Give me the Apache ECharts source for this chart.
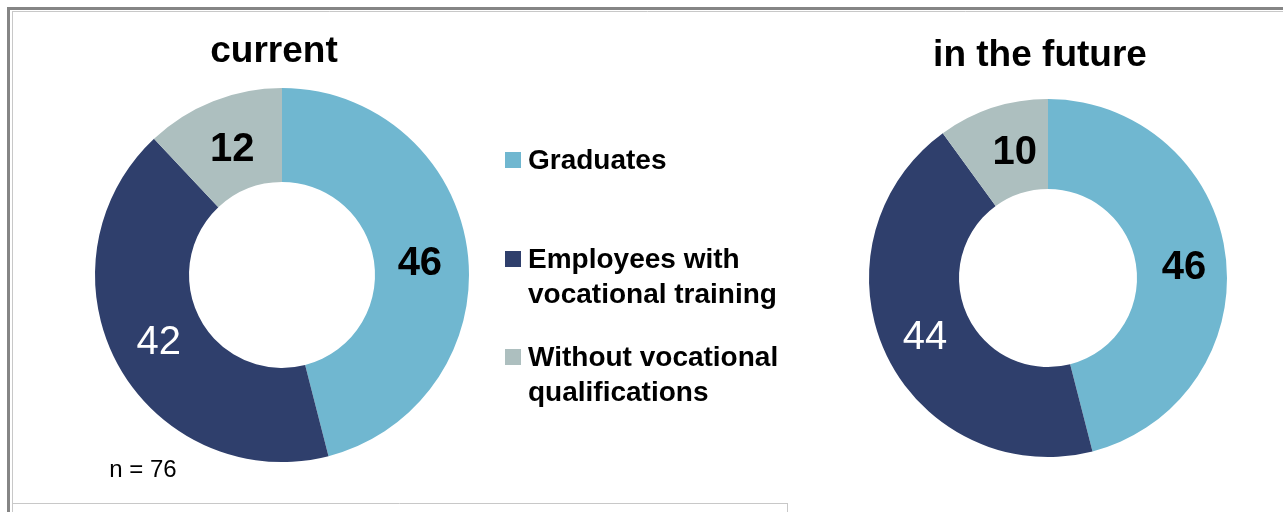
<!DOCTYPE html>
<html>
<head>
<meta charset="utf-8">
<script src="https://cdn.jsdelivr.net/npm/echarts@6/dist/echarts.min.js"></script>
<style>
  html, body { margin: 0; padding: 0; background: #ffffff; }
  #chart { width: 1283px; height: 512px; }
</style>
</head>
<body>
<div id="chart"></div>
<script>
// Workforce structure by qualification, shares in percent
const categories = ['Graduates', 'Employees with\nvocational training', 'Without vocational\nqualifications'];
const currentShares = [46, 42, 12];
const futureShares = [46, 44, 10];
const chartTitles = ['current', 'in the future'];
const sampleNote = 'n = 76';

const sliceColors = ['#70b7d0', '#2f3f6c', '#adbfbf'];
const labelColors = ['#000000', '#ffffff', '#000000'];
const labelWeights = ['bold', 'normal', 'bold'];
// small nudges of the value labels inside the ring
const currentLabelNudge = [[-4, 7], [2, -1], [3, 8]];
const futureLabelNudge = [[0, 7], [1, 2], [9, 5]];
const FONT = '"Liberation Sans", Arial, sans-serif';

function pieData(values, nudges) {
  return values.map((v, i) => ({
    name: categories[i],
    value: v,
    itemStyle: { color: sliceColors[i] },
    label: { color: labelColors[i], fontWeight: labelWeights[i], offset: nudges[i] }
  }));
}

function donut(values, nudges, center, radius) {
  return {
    type: 'pie',
    center: center,
    radius: radius,
    startAngle: 90,
    clockwise: true,
    silent: true,
    avoidLabelOverlap: false,
    label: {
      show: true,
      position: 'inside',
      formatter: '{c}',
      fontFamily: FONT,
      fontSize: 40
    },
    labelLine: { show: false },
    itemStyle: { borderWidth: 0 },
    data: pieData(values, nudges)
  };
}

// Legend block: square marker plus (possibly two-line) caption per category
const legendTops = [144, 243, 341];
const legendGraphics = [];
categories.forEach((name, i) => {
  legendGraphics.push({
    type: 'rect',
    shape: { x: 505, y: legendTops[i] + 8, width: 16, height: 16 },
    style: { fill: sliceColors[i] }
  });
  legendGraphics.push({
    type: 'text',
    x: 528,
    y: legendTops[i],
    style: {
      text: name,
      font: 'bold 28px ' + FONT,
      lineHeight: 35,
      fill: '#000000',
      verticalAlign: 'top',
      align: 'left'
    }
  });
});

// Frame lines around the panel
const frameGraphics = [
  { type: 'rect', shape: { x: 7, y: 7, width: 1290, height: 3 }, style: { fill: '#858585' } },
  { type: 'rect', shape: { x: 7, y: 7, width: 3, height: 510 }, style: { fill: '#858585' } },
  { type: 'line', shape: { x1: 12, y1: 11.5, x2: 1283, y2: 11.5 }, style: { stroke: '#c8c8c8', lineWidth: 1 } },
  { type: 'line', shape: { x1: 12.5, y1: 12, x2: 12.5, y2: 512 }, style: { stroke: '#c8c8c8', lineWidth: 1 } },
  { type: 'line', shape: { x1: 12, y1: 503.5, x2: 787, y2: 503.5 }, style: { stroke: '#c8c8c8', lineWidth: 1 } },
  { type: 'line', shape: { x1: 787.5, y1: 503, x2: 787.5, y2: 512 }, style: { stroke: '#c8c8c8', lineWidth: 1 } }
];

const textGraphics = [
  { type: 'text', x: 274, y: 52, style: { text: chartTitles[0], font: 'bold 37px ' + FONT, fill: '#000', align: 'center', verticalAlign: 'middle' } },
  { type: 'text', x: 1040, y: 56, style: { text: chartTitles[1], font: 'bold 37px ' + FONT, fill: '#000', align: 'center', verticalAlign: 'middle' } },
  { type: 'text', x: 143, y: 470, style: { text: sampleNote, font: '24px ' + FONT, fill: '#000', align: 'center', verticalAlign: 'middle' } }
];

const chart = echarts.init(document.getElementById('chart'), null, { renderer: 'canvas' });
chart.setOption({
  animation: false,
  backgroundColor: '#ffffff',
  series: [
    donut(currentShares, currentLabelNudge, [282, 275], [93, 187]),
    donut(futureShares, futureLabelNudge, [1048, 278], [89, 179])
  ],
  graphic: frameGraphics.concat(legendGraphics, textGraphics)
});
</script>
</body>
</html>
